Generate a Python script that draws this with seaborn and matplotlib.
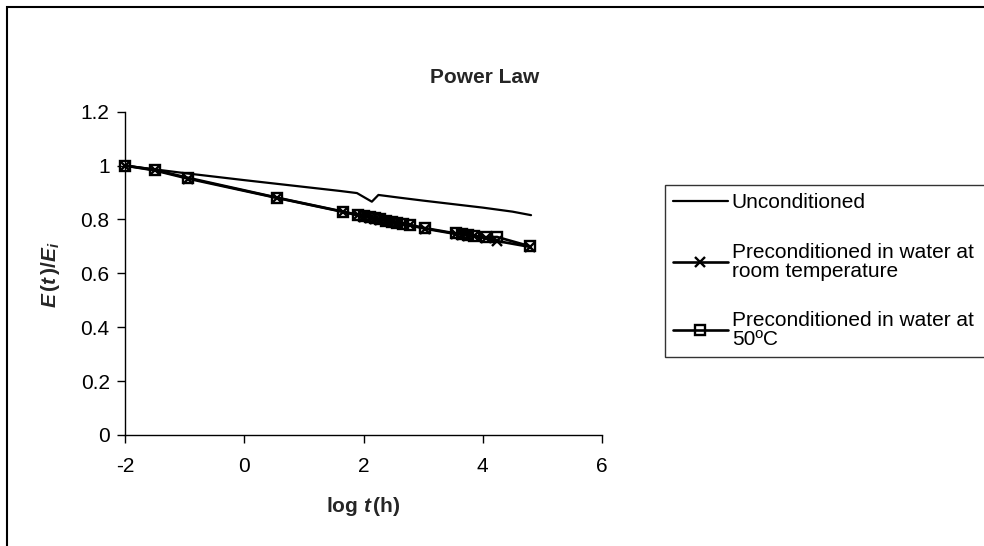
import matplotlib
matplotlib.use("Agg")
import matplotlib.pyplot as plt
from matplotlib.patches import Rectangle
import seaborn as sns
import pandas as pd

# Creep modulus ratio vs. log time (h)
uncond_x = [-2.0, -1.5, -1.0, 0.0, 1.0, 1.6, 1.89, 2.14, 2.25, 2.6, 3.0, 3.5, 4.0, 4.5, 4.81]
uncond_y = [1.0, 0.986, 0.972, 0.946, 0.921, 0.906, 0.898, 0.866, 0.891, 0.881, 0.870, 0.857, 0.844, 0.829, 0.816]

room_x = [-2.0, -1.5, -0.95, 0.55, 1.66, 1.91, 2.0, 2.11, 2.2, 2.28, 2.38, 2.47, 2.56,
          2.66, 2.78, 3.03, 3.55, 3.65, 3.75, 3.85, 4.05, 4.24, 4.80]
room_y = [1.0, 0.982, 0.952, 0.880, 0.828, 0.815, 0.810, 0.806, 0.802, 0.798, 0.794, 0.790, 0.786,
          0.782, 0.778, 0.766, 0.746, 0.743, 0.740, 0.737, 0.731, 0.720, 0.698]

hot_x = [-2.0, -1.5, -0.95, 0.55, 1.66, 1.91, 2.0, 2.11, 2.2, 2.28, 2.38, 2.47, 2.56,
         2.66, 2.78, 3.03, 3.55, 3.65, 3.75, 3.85, 4.05, 4.24, 4.80]
hot_y = [1.0, 0.984, 0.955, 0.881, 0.829, 0.817, 0.812, 0.808, 0.804, 0.800, 0.796, 0.792, 0.788,
         0.784, 0.780, 0.768, 0.748, 0.745, 0.742, 0.739, 0.734, 0.735, 0.700]

labels = ["Unconditioned",
          "Preconditioned in water at\nroom temperature",
          "Preconditioned in water at\n50ºC"]
x_ticks = [-2, 0, 2, 4, 6]
y_ticks = [0, 0.2, 0.4, 0.6, 0.8, 1.0, 1.2]
y_tick_labels = ["0", "0.2", "0.4", "0.6", "0.8", "1", "1.2"]

sns.set_theme(style="white")
plt.rcParams["font.family"] = ["Liberation Sans", "DejaVu Sans"]
plt.rcParams["mathtext.fontset"] = "custom"
plt.rcParams["mathtext.rm"] = "Liberation Sans"
plt.rcParams["mathtext.it"] = "Liberation Sans:italic"
plt.rcParams["mathtext.bf"] = "Liberation Sans:bold"
plt.rcParams["mathtext.bfit"] = "Liberation Sans:bold:italic"

fs = 15
fig = plt.figure(figsize=(9.84, 5.46), dpi=100)
ax = fig.add_axes([125 / 984, 1 - 435 / 546, (602 - 125) / 984, (435 - 111.7) / 546])

df_u = pd.DataFrame({"x": uncond_x, "y": uncond_y})
df_r = pd.DataFrame({"x": room_x, "y": room_y})
df_h = pd.DataFrame({"x": hot_x, "y": hot_y})

sns.lineplot(data=df_u, x="x", y="y", ax=ax, color="black", lw=1.6,
             sort=False, estimator=None, label=labels[0], clip_on=False)
sns.lineplot(data=df_r, x="x", y="y", ax=ax, color="black", lw=1.9, marker="x",
             markersize=6.5, markeredgewidth=1.7, markeredgecolor="black",
             sort=False, estimator=None, label=labels[1], clip_on=False)
sns.lineplot(data=df_h, x="x", y="y", ax=ax, color="black", lw=1.9, marker="s",
             markersize=6.5, markeredgewidth=1.7, markeredgecolor="black",
             markerfacecolor="none", sort=False, estimator=None, label=labels[2],
             clip_on=False)

ax.set_xlim(-2, 6)
ax.set_ylim(0, 1.2)
ax.set_xticks(x_ticks)
ax.set_xticklabels([str(t) for t in x_ticks])
ax.set_yticks(y_ticks)
ax.set_yticklabels(y_tick_labels)
ax.tick_params(axis="both", direction="out", length=6, width=1, color="black",
               labelsize=fs, labelcolor="black", bottom=True, left=True)
ax.tick_params(axis="y", pad=5)
ax.tick_params(axis="x", pad=10)
for side in ["top", "right"]:
    ax.spines[side].set_visible(False)
for side in ["left", "bottom"]:
    ax.spines[side].set_color("black")
    ax.spines[side].set_linewidth(1)
ax.set_xlabel("")
ax.set_ylabel("")
ax.grid(False)

fig.text(0.492, 1 - 78 / 546, "Power Law", ha="center", va="center",
         fontsize=fs, fontweight="bold")
fig.text(363 / 984, 1 - 507 / 546,
         r"$\mathbf{log}\ \mathbfit{t}\,\mathbf{(h)}$",
         ha="center", va="center", fontsize=fs)
fig.text(50 / 984, 1 - 275 / 546,
         r"$\mathbfit{E}\,\mathbf{(}\mathbfit{t}\,\mathbf{)/}\mathbfit{E}_{\mathbfit{i}}$",
         ha="center", va="center", rotation=90, fontsize=fs)

# legend box runs past the right edge of the canvas
leg = ax.legend(loc="upper left",
                bbox_to_anchor=(665 / 984, 1 - 185 / 546, 0.36, 0),
                mode="expand",
                bbox_transform=fig.transFigure, fontsize=fs, frameon=True,
                fancybox=False, edgecolor="black", borderpad=0.4,
                handlelength=2.6, handletextpad=0.2, labelspacing=1.45,
                borderaxespad=0)
leg.get_frame().set_linewidth(1)
for t in leg.get_texts():
    t.set_color("black")
    t.set_linespacing(1.0)

fig.patches.append(Rectangle((7 / 984, -0.05), 1.2, 1.05 - 7 / 546,
                             transform=fig.transFigure, fill=False,
                             edgecolor="black", linewidth=1.5))

fig.savefig("out.png", dpi=100)
